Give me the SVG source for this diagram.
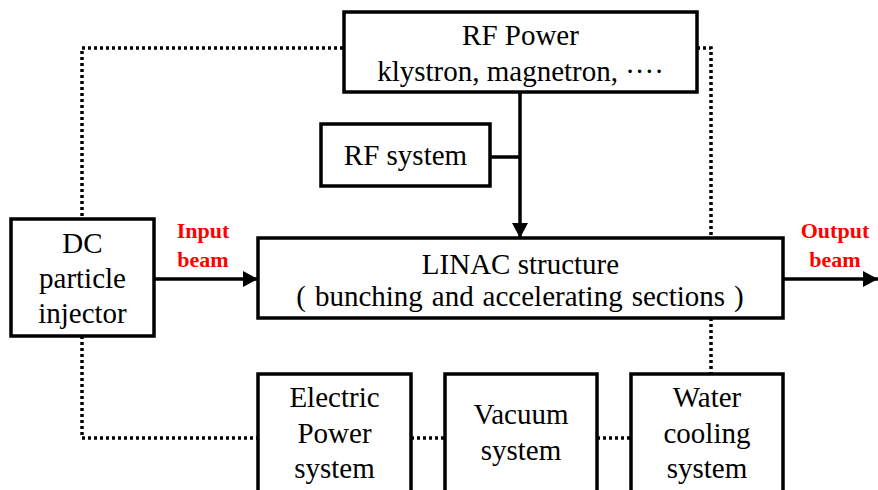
<svg xmlns="http://www.w3.org/2000/svg" width="878" height="490" viewBox="0 0 878 490">
<style>
.box{fill:#fff;stroke:#000;stroke-width:3.5}
.solid{fill:none;stroke:#000;stroke-width:3.5}
.dot{fill:none;stroke:#000;stroke-width:3.5;stroke-dasharray:3 3}
</style>
<defs>
<marker id="arr" markerUnits="userSpaceOnUse" markerWidth="16" markerHeight="16" refX="15" refY="8" orient="auto">
<path d="M0,0 L15,8 L0,16 Z" fill="#000"/>
</marker>
</defs>
<g id="connectors">
<path class="dot" d="M343,48 H82 V219"/>
<path class="dot" d="M697,48 H711 V238"/>
<path class="dot" d="M82,336 V438 H258"/>
<path class="dot" d="M411,438 H445"/>
<path class="dot" d="M597,438 H631"/>
<path class="dot" d="M711,318 V374"/>
<path class="solid" d="M520,92 V238" marker-end="url(#arr)"/>
<path class="solid" d="M490,157 H520"/>
<path class="solid" d="M154,279 H258" marker-end="url(#arr)"/>
<path class="solid" d="M783,279 H878" marker-end="url(#arr)"/>
</g>
<g id="rf-power">
<rect class="box" x="344" y="12" width="353" height="80"/>
<text font-family="Liberation Serif" font-size="29" text-anchor="middle" x="520.5" y="45">RF Power</text>
<text font-family="Liberation Serif" font-size="29" text-anchor="middle" x="520.5" y="81">klystron, magnetron, ····</text>
</g>
<g id="rf-system">
<rect class="box" x="321" y="124" width="169" height="62"/>
<text font-family="Liberation Serif" font-size="29" text-anchor="middle" x="405.5" y="165">RF system</text>
</g>
<g id="dc-injector">
<rect class="box" x="11" y="219" width="143" height="117"/>
<text font-family="Liberation Serif" font-size="29" text-anchor="middle" x="82.5" y="253">DC</text>
<text font-family="Liberation Serif" font-size="29" text-anchor="middle" x="82.5" y="288">particle</text>
<text font-family="Liberation Serif" font-size="29" text-anchor="middle" x="82.5" y="323">injector</text>
</g>
<g id="linac">
<rect class="box" x="258" y="238" width="525" height="80"/>
<text font-family="Liberation Serif" font-size="29" text-anchor="middle" x="520.5" y="274">LINAC structure</text>
<text font-family="Liberation Serif" font-size="29" text-anchor="middle" word-spacing="1.7" x="520" y="306">( bunching and accelerating sections )</text>
</g>
<g id="input-label">
<text font-family="Liberation Serif" font-size="22" font-weight="bold" fill="#f00" text-anchor="middle" x="203" y="238">Input</text>
<text font-family="Liberation Serif" font-size="22" font-weight="bold" fill="#f00" text-anchor="middle" x="203" y="267">beam</text>
</g>
<g id="output-label">
<text font-family="Liberation Serif" font-size="22" font-weight="bold" fill="#f00" text-anchor="middle" x="835" y="238">Output</text>
<text font-family="Liberation Serif" font-size="22" font-weight="bold" fill="#f00" text-anchor="middle" x="835" y="267">beam</text>
</g>
<g id="electric">
<rect class="box" x="258" y="374" width="153" height="130"/>
<text font-family="Liberation Serif" font-size="29" text-anchor="middle" x="334.5" y="407">Electric</text>
<text font-family="Liberation Serif" font-size="29" text-anchor="middle" x="334.5" y="443">Power</text>
<text font-family="Liberation Serif" font-size="29" text-anchor="middle" x="334.5" y="478">system</text>
</g>
<g id="vacuum">
<rect class="box" x="445" y="374" width="152" height="130"/>
<text font-family="Liberation Serif" font-size="29" text-anchor="middle" x="521" y="424">Vacuum</text>
<text font-family="Liberation Serif" font-size="29" text-anchor="middle" x="521" y="460">system</text>
</g>
<g id="water">
<rect class="box" x="631" y="374" width="152" height="130"/>
<text font-family="Liberation Serif" font-size="29" text-anchor="middle" x="707" y="407">Water</text>
<text font-family="Liberation Serif" font-size="29" text-anchor="middle" x="707" y="443">cooling</text>
<text font-family="Liberation Serif" font-size="29" text-anchor="middle" x="707" y="478">system</text>
</g>
</svg>
